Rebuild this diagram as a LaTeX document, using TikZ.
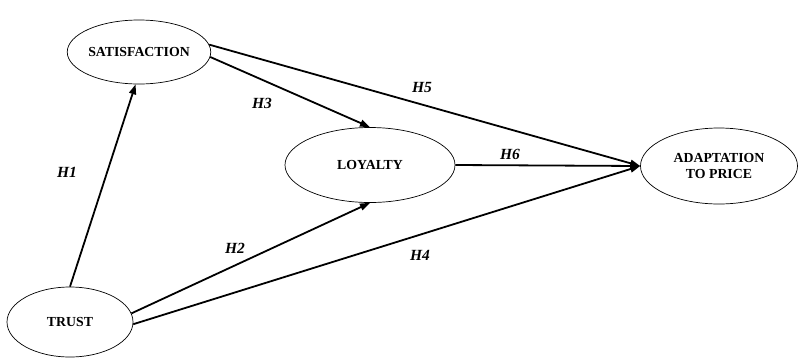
\documentclass[tikz,border=0pt]{standalone}
\usepackage{fontspec}
\setmainfont{Liberation Serif}
\usetikzlibrary{arrows.meta, positioning, shapes.geometric}
\tikzset{
  construct/.style={ellipse, draw=black, line width=0.7pt, inner sep=0pt,
    font=\fontsize{13.8}{16}\selectfont\bfseries, align=center},
  path/.style={line width=1.8pt, -{Triangle[length=10pt,width=7pt]}},
  hyp/.style={font=\fontsize{15.5}{17}\selectfont\bfseries\itshape}
}

\begin{document}
\begin{tikzpicture}[x=1pt, y=-1pt]
    \useasboundingbox (0,0) rectangle (798,357);
    % constructs
    \node[construct, minimum width=127pt, minimum height=64pt] (sat) at (139,52) {SATISFACTION};
    \node[construct, minimum width=170pt, minimum height=75pt] (loy) at (370,165) {LOYALTY};
    \node[construct, minimum width=157pt, minimum height=76pt] (adp) at (719,166) {ADAPTATION\\TO PRICE};
    \node[construct, minimum width=126pt, minimum height=70pt] (tru) at (70,322) {TRUST};
    % paths
    \draw[path] (tru.north) -- (sat.-96);
    \draw[path] (tru.8) -- (loy.south);
    \draw[path] (tru.-2) -- (adp.west);
    \draw[path] (sat.-4) -- (loy.north);
    \draw[path] (sat.6) -- (adp.west);
    \draw[path] (loy.east) -- (adp.west);
    % hypotheses
    \node[hyp] (h1) at (67,172) {H1};
    \node[hyp] (h2) at (235,248) {H2};
    \node[hyp] (h3) at (262,103) {H3};
    \node[hyp] (h4) at (420,255) {H4};
    \node[hyp] (h5) at (422,87) {H5};
    \node[hyp] (h6) at (510,154) {H6};
\end{tikzpicture}
\end{document}
